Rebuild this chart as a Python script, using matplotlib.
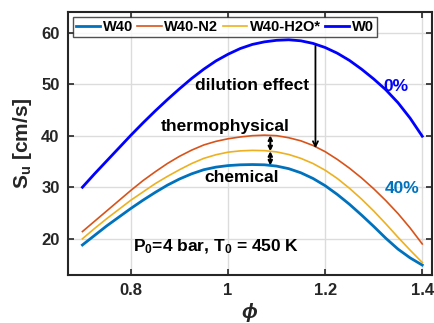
import numpy as np
import matplotlib
matplotlib.use("Agg")
import matplotlib.pyplot as plt

plt.rcParams['font.family'] = ['Liberation Sans', 'DejaVu Sans']
plt.rcParams['font.weight'] = 'bold'
plt.rcParams['axes.labelweight'] = 'bold'
plt.rcParams['mathtext.fontset'] = 'custom'
plt.rcParams['mathtext.rm'] = 'Liberation Sans:bold'
plt.rcParams['mathtext.bf'] = 'Liberation Sans:bold'
plt.rcParams['mathtext.it'] = 'Liberation Sans:italic:bold'
plt.rcParams['mathtext.default'] = 'bf'

# equivalence ratio
phi = [0.700, 0.725, 0.750, 0.775, 0.800, 0.825, 0.850, 0.875, 0.900, 0.925,
       0.950, 0.975, 1.000, 1.025, 1.050, 1.075, 1.100, 1.125, 1.150, 1.175,
       1.200, 1.225, 1.250, 1.275, 1.300, 1.325, 1.350, 1.375, 1.400]

# laminar burning velocity (cm/s)
w0 = [30.0, 32.6, 35.1, 37.6, 40.1, 42.5, 44.8, 47.0, 49.1, 51.1,
      52.9, 54.5, 55.8, 56.9, 57.7, 58.2, 58.5, 58.6, 58.4, 57.9,
      57.1, 56.0, 54.6, 52.9, 51.0, 48.9, 46.4, 43.4, 39.9]
w40_n2 = [21.4, 23.4, 25.4, 27.4, 29.4, 31.3, 33.0, 34.6, 36.0, 37.2,
          38.2, 38.9, 39.4, 39.75, 40.0, 40.1, 40.0, 39.6, 39.0, 38.1,
          36.9, 35.4, 33.7, 31.8, 29.7, 27.4, 24.9, 22.1, 19.0]
w40_h2o = [20.0, 22.0, 23.9, 25.7, 27.5, 29.1, 30.7, 32.1, 33.4, 34.6,
           35.6, 36.3, 36.8, 37.05, 37.15, 37.1, 36.85, 36.35, 35.6, 34.6,
           33.3, 31.7, 29.8, 27.7, 25.4, 22.9, 20.3, 17.8, 15.4]
w40 = [18.8, 20.65, 22.5, 24.2, 25.9, 27.5, 29.0, 30.4, 31.6, 32.6,
       33.4, 33.9, 34.2, 34.35, 34.4, 34.35, 34.1, 33.6, 32.8, 31.7,
       30.3, 28.6, 26.7, 24.6, 22.4, 20.1, 18.0, 16.3, 14.9]

xticks = [0.8, 1.0, 1.2, 1.4]
xticklabels = ['0.8', '1', '1.2', '1.4']
yticks = [20, 30, 40, 50, 60]

fig = plt.figure(figsize=(4.35, 3.23), dpi=100)
ax = fig.add_axes([0.156, 0.149, 0.837, 0.814])

ax.plot(phi, w40, color='#0072BD', lw=2.0, label='W40')
ax.plot(phi, w40_n2, color='#D95319', lw=1.2, label='W40-N2')
ax.plot(phi, w40_h2o, color='#EDB120', lw=1.2, label='W40-H2O*')
ax.plot(phi, w0, color='#0000FF', lw=2.0, label='W0')

ax.set_xlim(0.67, 1.42)
ax.set_ylim(13, 64)
ax.set_xticks(xticks)
ax.set_xticklabels(xticklabels)
ax.set_yticks(yticks)
ax.grid(True, color='#dcdcdc', lw=1.0)
ax.set_axisbelow(True)
ax.tick_params(direction='in', top=True, right=True, length=4, width=1.2,
               labelsize=12, colors='#262626', pad=6)
for s in ax.spines.values():
    s.set_linewidth(1.5)
    s.set_color('#262626')

ax.set_xlabel(r'$\it{\phi}$', fontsize=15, color='#262626', labelpad=2)
ax.set_ylabel(r'S$_{\mathbf{u}}$ [cm/s]', fontsize=15, color='#262626', labelpad=5)

leg = ax.legend(loc='upper left', ncol=4, fontsize=10.5, frameon=True,
                fancybox=False, edgecolor='#262626', handlelength=1.65,
                handletextpad=0.2, columnspacing=0.3, borderpad=0.2,
                borderaxespad=0.35)
leg.get_frame().set_linewidth(1.0)

# arrows between curves
pa = 1.087
n2_a = np.interp(pa, phi, w40_n2)
h2o_a = np.interp(pa, phi, w40_h2o)
w40_a = np.interp(pa, phi, w40)
for y1, y2 in [(n2_a, h2o_a), (h2o_a, w40_a)]:
    ax.annotate('', xy=(pa, y2), xytext=(pa, y1),
                arrowprops=dict(arrowstyle='<->', lw=1.5, color='black',
                                mutation_scale=6, shrinkA=0, shrinkB=0))

pd = 1.18
ax.annotate('', xy=(pd, np.interp(pd, phi, w40_n2) - 0.3),
            xytext=(pd, np.interp(pd, phi, w0) - 0.3),
            arrowprops=dict(arrowstyle='->', lw=1.3, color='black',
                            mutation_scale=9, shrinkA=0, shrinkB=0))

ax.text(1.167, 49.8, 'dilution effect', ha='right', va='center', fontsize=12.5)
ax.text(0.995, 41.7, 'thermophysical', ha='center', va='center', fontsize=12.5)
ax.text(1.028, 31.8, 'chemical', ha='center', va='center', fontsize=12.5)
ax.text(1.345, 49.6, '0%', ha='center', va='center', fontsize=12.5, color='#0000FF')
ax.text(1.358, 29.7, '40%', ha='center', va='center', fontsize=12.5, color='#0072BD')
ax.text(0.975, 18.4, r'P$_0$=4 bar, T$_0$ = 450 K', ha='center', va='center', fontsize=12.5)

fig.savefig('out.png', dpi=100)
